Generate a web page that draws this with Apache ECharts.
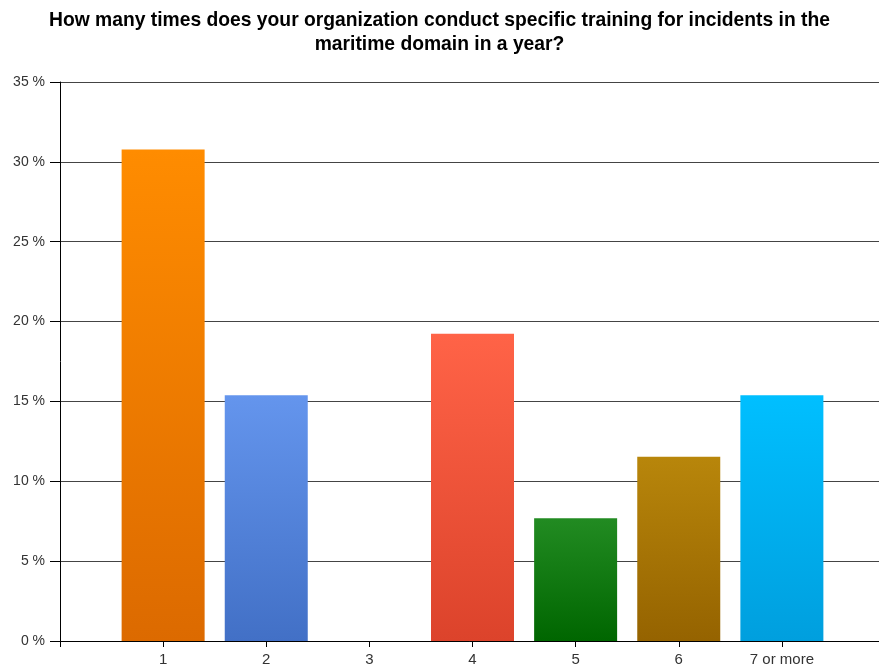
<!DOCTYPE html>
<html>
<head>
<meta charset="utf-8">
<script src="https://cdn.jsdelivr.net/npm/echarts@6/dist/echarts.min.js"></script>
<style>
html,body{margin:0;padding:0;background:#fff;}
#chart{width:879px;height:668px;}
</style>
</head>
<body>
<div id="chart"></div>
<script>
var titleText = 'How many times does your organization conduct specific training for incidents in the\nmaritime domain in a year?';
var categories = ['1', '2', '3', '4', '5', '6', '7 or more'];
var values = [30.77, 15.38, 0, 19.23, 7.69, 11.54, 15.38];
var topColors = ['#FF8C00', '#6495ED', '#999999', '#FF6347', '#228B22', '#B8860B', '#00BFFF'];
var bottomColors = ['#DC6A00', '#4270C6', '#777777', '#DC432B', '#006600', '#956300', '#009FDE'];
var yTicks = [0, 5, 10, 15, 20, 25, 30, 35];

var chart = echarts.init(document.getElementById('chart'));
var seriesData = values.map(function (v, i) {
  return {
    value: [i + 1, v],
    itemStyle: {
      color: new echarts.graphic.LinearGradient(0, 0, 0, 1, [
        { offset: 0, color: topColors[i] },
        { offset: 1, color: bottomColors[i] }
      ])
    }
  };
});

chart.setOption({
  animation: false,
  title: {
    text: titleText,
    left: 'center',
    top: 4,
    textStyle: {
      fontFamily: 'Liberation Sans, Arial, sans-serif',
      fontSize: 19.3,
      fontWeight: 'bold',
      color: '#000',
      lineHeight: 24
    }
  },
  grid: { left: 60, width: 825, top: 82, bottom: 27, containLabel: false, outerBoundsMode: 'none' },
  xAxis: {
    type: 'value',
    min: 0,
    max: categories.length + 1,
    interval: 1,
    axisLine: { show: true, lineStyle: { color: '#000', width: 1 } },
    axisTick: { show: true, length: 6, lineStyle: { color: '#000' } },
    splitLine: { show: false },
    axisLabel: {
      margin: 11,
      fontFamily: 'Liberation Sans, Arial, sans-serif',
      fontSize: 15,
      color: '#333',
      showMinLabel: true,
      showMaxLabel: true,
      formatter: function (v) {
        var i = Math.round(v) - 1;
        return (i >= 0 && i < categories.length) ? categories[i] : '';
      }
    }
  },
  yAxis: {
    type: 'value',
    min: yTicks[0],
    max: yTicks[yTicks.length - 1],
    interval: 5,
    axisLine: { show: true, lineStyle: { color: '#000', width: 1 } },
    axisTick: { show: true, inside: false, length: 10, lineStyle: { color: '#000' } },
    splitLine: { show: true, lineStyle: { color: '#444', width: 1 } },
    axisLabel: {
      margin: 15,
      fontFamily: 'Liberation Sans, Arial, sans-serif',
      fontSize: 14,
      color: '#333',
      formatter: function (v) { return v + ' %'; }
    }
  },
  series: [{
    type: 'bar',
    barWidth: 83,
    data: seriesData
  }]
});
</script>
</body>
</html>
